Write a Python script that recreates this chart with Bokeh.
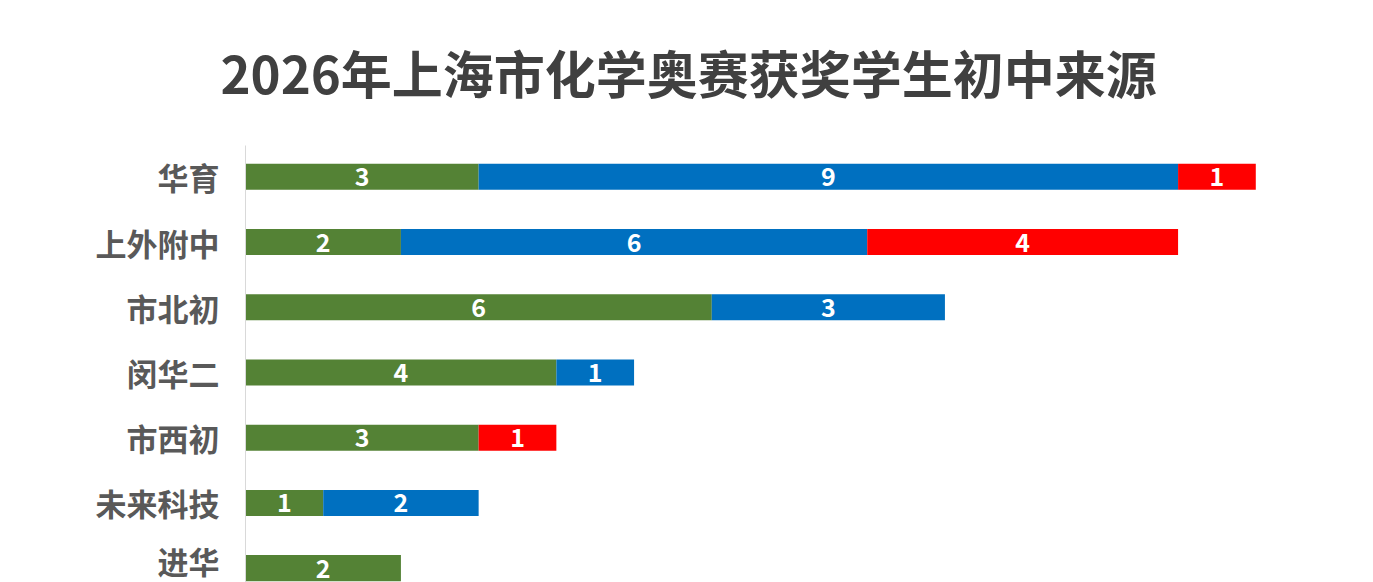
from bokeh.plotting import figure
from bokeh.models import ColumnDataSource, Range1d, FixedTicker
from bokeh.core.properties import value
from bokeh.embed import file_html
from bokeh.resources import INLINE

# ---- data ----
schools = ["华育", "上外附中", "市北初", "闵华二", "市西初", "未来科技", "进华"]
green_vals = [3, 2, 6, 4, 3, 1, 2]
blue_vals = [9, 6, 3, 1, 0, 2, 0]
red_vals = [1, 4, 0, 0, 1, 0, 0]
title_text = "2026年上海市化学奥赛获奖学生初中来源"

colors = ["#548235", "#0070C0", "#FF0000"]
series = ["green", "blue", "red"]
FONT = "Noto Sans CJK SC"

ypos = [-i for i in range(len(schools))]
src = ColumnDataSource(dict(y=ypos, green=green_vals, blue=blue_vals, red=red_vals))

W, H = 1373, 582
p = figure(width=W, height=H, output_backend="svg", toolbar_location=None,
           x_range=Range1d(0, 14.09), y_range=Range1d(-6.22, 0.48),
           min_border_left=245, min_border_right=33, min_border_bottom=0,
           min_border_top=143,
           background_fill_color="white", border_fill_color="white")
p.outline_line_color = None
p.grid.visible = False
p.xaxis.visible = False

p.hbar_stack(series, y="y", height=0.40, color=colors, source=src, line_color=None)

# value labels
lx, ly, lt = [], [], []
for i, y in enumerate(ypos):
    left = 0
    for vals in (green_vals, blue_vals, red_vals):
        v = vals[i]
        if v:
            lx.append(left + v / 2)
            ly.append(y)
            lt.append(str(v))
        left += v
p.text(x=lx, y=ly, text=lt, text_align="center", text_baseline="middle",
       text_color="white", text_font=value(FONT), text_font_style="bold",
       text_font_size="25px")

# y axis
yax = p.yaxis[0]
yax.ticker = FixedTicker(ticks=ypos)
yax.major_label_overrides = {y: s for y, s in zip(ypos, schools)}
yax.major_tick_line_color = None
yax.minor_tick_line_color = None
yax.axis_line_color = "#D9D9D9"
yax.axis_line_width = 1
yax.major_label_text_font = FONT
yax.major_label_text_font_style = "bold"
yax.major_label_text_font_size = "31px"
yax.major_label_text_color = "#595959"
yax.major_label_standoff = 20

# title
p.title.text = title_text
p.title.text_font = FONT
p.title.text_font_style = "bold"
p.title.text_font_size = "51px"
p.title.text_color = "#404040"
p.title.align = "left"
p.title.offset = -25
p.title.vertical_align = "top"
p.title.standoff = 69

open("out.html", "w").write(file_html(p, INLINE))
